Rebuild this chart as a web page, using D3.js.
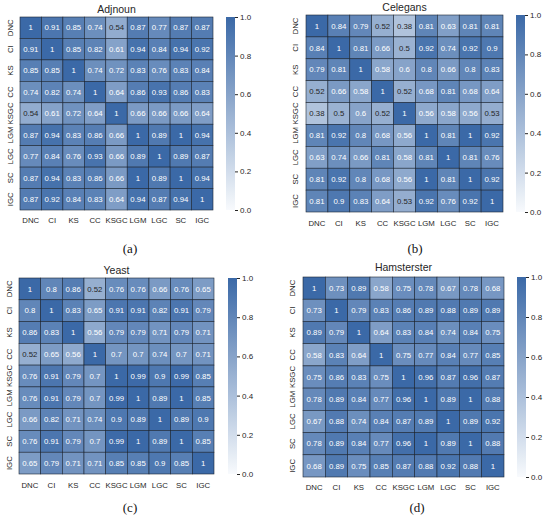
<!DOCTYPE html>
<html>
<head>
<meta charset="utf-8">
<script src="https://d3js.org/d3.v7.min.js"></script>
<style>
  body { margin: 0; background: #fff; }
  text { font-family: "Liberation Sans", Arial, sans-serif; }
</style>
</head>
<body>
<div id="chart"></div>
<script>
// row / column labels (same for every panel)
var labels = ["DNC", "CI", "KS", "CC", "KSGC", "LGM", "LGC", "SC", "IGC"];

var adjnoun = [
  [1, 0.91, 0.85, 0.74, 0.54, 0.87, 0.77, 0.87, 0.87],
  [0.91, 1, 0.85, 0.82, 0.61, 0.94, 0.84, 0.94, 0.92],
  [0.85, 0.85, 1, 0.74, 0.72, 0.83, 0.76, 0.83, 0.84],
  [0.74, 0.82, 0.74, 1, 0.64, 0.86, 0.93, 0.86, 0.83],
  [0.54, 0.61, 0.72, 0.64, 1, 0.66, 0.66, 0.66, 0.64],
  [0.87, 0.94, 0.83, 0.86, 0.66, 1, 0.89, 1, 0.94],
  [0.77, 0.84, 0.76, 0.93, 0.66, 0.89, 1, 0.89, 0.87],
  [0.87, 0.94, 0.83, 0.86, 0.66, 1, 0.89, 1, 0.94],
  [0.87, 0.92, 0.84, 0.83, 0.64, 0.94, 0.87, 0.94, 1]
];

var celegans = [
  [1, 0.84, 0.79, 0.52, 0.38, 0.81, 0.63, 0.81, 0.81],
  [0.84, 1, 0.81, 0.66, 0.5, 0.92, 0.74, 0.92, 0.9],
  [0.79, 0.81, 1, 0.58, 0.6, 0.8, 0.66, 0.8, 0.83],
  [0.52, 0.66, 0.58, 1, 0.52, 0.68, 0.81, 0.68, 0.64],
  [0.38, 0.5, 0.6, 0.52, 1, 0.56, 0.58, 0.56, 0.53],
  [0.81, 0.92, 0.8, 0.68, 0.56, 1, 0.81, 1, 0.92],
  [0.63, 0.74, 0.66, 0.81, 0.58, 0.81, 1, 0.81, 0.76],
  [0.81, 0.92, 0.8, 0.68, 0.56, 1, 0.81, 1, 0.92],
  [0.81, 0.9, 0.83, 0.64, 0.53, 0.92, 0.76, 0.92, 1]
];

var yeast = [
  [1, 0.8, 0.86, 0.52, 0.76, 0.76, 0.66, 0.76, 0.65],
  [0.8, 1, 0.83, 0.65, 0.91, 0.91, 0.82, 0.91, 0.79],
  [0.86, 0.83, 1, 0.56, 0.79, 0.79, 0.71, 0.79, 0.71],
  [0.52, 0.65, 0.56, 1, 0.7, 0.7, 0.74, 0.7, 0.71],
  [0.76, 0.91, 0.79, 0.7, 1, 0.99, 0.9, 0.99, 0.85],
  [0.76, 0.91, 0.79, 0.7, 0.99, 1, 0.89, 1, 0.85],
  [0.66, 0.82, 0.71, 0.74, 0.9, 0.89, 1, 0.89, 0.9],
  [0.76, 0.91, 0.79, 0.7, 0.99, 1, 0.89, 1, 0.85],
  [0.65, 0.79, 0.71, 0.71, 0.85, 0.85, 0.9, 0.85, 1]
];

var hamsterster = [
  [1, 0.73, 0.89, 0.58, 0.75, 0.78, 0.67, 0.78, 0.68],
  [0.73, 1, 0.79, 0.83, 0.86, 0.89, 0.88, 0.89, 0.89],
  [0.89, 0.79, 1, 0.64, 0.83, 0.84, 0.74, 0.84, 0.75],
  [0.58, 0.83, 0.64, 1, 0.75, 0.77, 0.84, 0.77, 0.85],
  [0.75, 0.86, 0.83, 0.75, 1, 0.96, 0.87, 0.96, 0.87],
  [0.78, 0.89, 0.84, 0.77, 0.96, 1, 0.89, 1, 0.88],
  [0.67, 0.88, 0.74, 0.84, 0.87, 0.89, 1, 0.89, 0.92],
  [0.78, 0.89, 0.84, 0.77, 0.96, 1, 0.89, 1, 0.88],
  [0.68, 0.89, 0.75, 0.85, 0.87, 0.88, 0.92, 0.88, 1]
];

var titles = ["Adjnoun", "Celegans", "Yeast", "Hamsterster"];
var panelTags = ["(a)", "(b)", "(c)", "(d)"];
var cbarTicks = [0, 0.2, 0.4, 0.6, 0.8, 1.0];

var width = 550, height = 518;
var svg = d3.select("#chart").append("svg")
  .attr("width", width)
  .attr("height", height);

var color = d3.scaleLinear().domain([0, 1])
  .range(["#f8fafd", "#3b69a7"])
  .interpolate(d3.interpolateRgb);

// dark text on light cells, white text on dark cells (luminance test)
function textColor(v) {
  var c = d3.rgb(color(v));
  function lin(x) { x = x / 255; return x <= 0.03928 ? x / 12.92 : Math.pow((x + 0.055) / 1.055, 2.4); }
  var lum = 0.2126 * lin(c.r) + 0.7152 * lin(c.g) + 0.0722 * lin(c.b);
  return lum > 0.392 ? "#262626" : "#ffffff";
}

var defs = svg.append("defs");
var grad = defs.append("linearGradient").attr("id", "cbar")
  .attr("x1", 0).attr("y1", 1).attr("x2", 0).attr("y2", 0);
d3.range(0, 1.01, 0.1).forEach(function(t) {
  grad.append("stop").attr("offset", t).attr("stop-color", color(t));
});

// panel boxes: heatmap area, colorbar, text anchors
var panels = [
  {data: adjnoun, x0: 20, x1: 213, y0: 17, y1: 210, cb: 226, titleY: 13, xlabY: 223, ylabX: 10, tagX: 130, tagY: 253},
  {data: celegans, x0: 306, x1: 503, y0: 15, y1: 212, cb: 516, titleY: 11, xlabY: 226, ylabX: 295, tagX: 415, tagY: 253},
  {data: yeast, x0: 19, x1: 214, y0: 278, y1: 474, cb: 228, titleY: 274, xlabY: 488, ylabX: 9, tagX: 130, tagY: 512},
  {data: hamsterster, x0: 303, x1: 504, y0: 277, y1: 477, cb: 517, titleY: 271, xlabY: 490, ylabX: 292, tagX: 417, tagY: 512}
];

panels.forEach(function(p, i) {
  var g = svg.append("g");
  var xs = d3.scaleBand().domain(labels).range([p.x0, p.x1]);
  var ys = d3.scaleBand().domain(labels).range([p.y0, p.y1]);

  var cells = [];
  p.data.forEach(function(row, r) {
    row.forEach(function(v, c) {
      cells.push({row: labels[r], col: labels[c], v: v});
    });
  });

  g.selectAll("rect.cell").data(cells).enter().append("rect")
    .attr("class", "cell")
    .attr("x", function(d) { return xs(d.col); })
    .attr("y", function(d) { return ys(d.row); })
    .attr("width", xs.bandwidth())
    .attr("height", ys.bandwidth())
    .attr("fill", function(d) { return color(d.v); })
    .attr("stroke", "#1c2533")
    .attr("stroke-width", 0.6);

  g.selectAll("text.val").data(cells).enter().append("text")
    .attr("class", "val")
    .attr("x", function(d) { return xs(d.col) + xs.bandwidth() / 2; })
    .attr("y", function(d) { return ys(d.row) + ys.bandwidth() / 2; })
    .attr("dy", "0.35em")
    .attr("text-anchor", "middle")
    .style("font-size", "7.8px")
    .attr("fill", function(d) { return textColor(d.v); })
    .text(function(d) { return d3.format("~g")(d.v); });

  // x tick labels
  g.selectAll("text.xl").data(labels).enter().append("text")
    .attr("x", function(d) { return xs(d) + xs.bandwidth() / 2; })
    .attr("y", p.xlabY)
    .attr("text-anchor", "middle")
    .style("font-size", "7.8px")
    .attr("fill", "#262626")
    .text(function(d) { return d; });

  // y tick labels (rotated)
  g.selectAll("text.yl").data(labels).enter().append("text")
    .attr("transform", function(d) {
      return "translate(" + (p.ylabX + 3) + "," + (ys(d) + ys.bandwidth() / 2) + ") rotate(-90)";
    })
    .attr("text-anchor", "middle")
    .style("font-size", "7.8px")
    .attr("fill", "#262626")
    .text(function(d) { return d; });

  // title
  g.append("text")
    .attr("x", (p.x0 + p.x1) / 2)
    .attr("y", p.titleY)
    .attr("text-anchor", "middle")
    .style("font-size", "10.5px")
    .attr("fill", "#262626")
    .text(titles[i]);

  // colorbar
  var cs = d3.scaleLinear().domain([0, 1]).range([p.y1, p.y0]);
  g.append("rect")
    .attr("x", p.cb).attr("y", p.y0)
    .attr("width", 9).attr("height", p.y1 - p.y0)
    .attr("fill", "url(#cbar)");
  var ax = g.append("g")
    .attr("transform", "translate(" + (p.cb + 9) + ",0)")
    .call(d3.axisRight(cs).tickValues(cbarTicks).tickFormat(d3.format(".1f")).tickSize(3).tickPadding(2));
  ax.select(".domain").remove();
  ax.selectAll("line").attr("stroke", "#262626");
  ax.selectAll("text").style("font-size", "8px").attr("fill", "#262626")
    .style("font-family", "Liberation Sans, Arial, sans-serif");

  // panel tag
  g.append("text")
    .attr("x", p.tagX)
    .attr("y", p.tagY)
    .attr("text-anchor", "middle")
    .style("font-family", "Liberation Serif, Times New Roman, serif")
    .style("font-size", "13px")
    .attr("fill", "#111")
    .text(panelTags[i]);
});
</script>
</body>
</html>
